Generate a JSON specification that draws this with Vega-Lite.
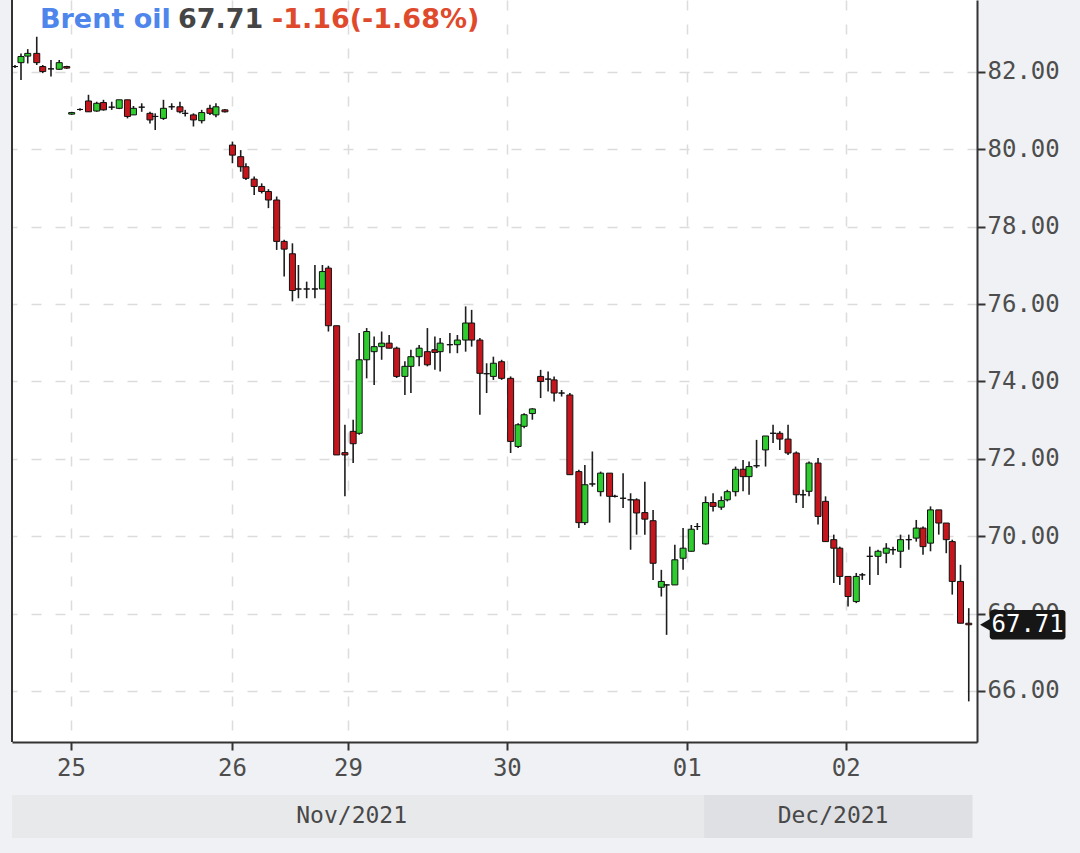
{
  "$schema": "https://vega.github.io/schema/vega-lite/v6.json",
  "width": 965,
  "height": 742,
  "autosize": "none",
  "padding": {"left": 12, "top": 0, "right": 103, "bottom": 111},
  "background": "#eff1f4",
  "config": {
    "view": {"fill": "white", "stroke": null},
    "font": "DejaVu Sans Mono",
    "axis": {
      "labelFont": "DejaVu Sans Mono",
      "labelFontSize": 24,
      "labelColor": "#4d4d4d",
      "domainColor": "#333333",
      "domainWidth": 2,
      "tickColor": "#333333",
      "tickWidth": 2,
      "tickSize": 8,
      "gridColor": "#dcdcdc",
      "gridDash": [10, 14],
      "gridWidth": 1.5
    }
  },
  "resolve": {"axis": {"x": "independent", "y": "independent"}},
  "datasets": {
    "candles": [
      {"t": 0.4, "o": 82.14, "h": 82.18, "l": 82.10, "c": 82.14},
      {"t": 1.2, "o": 82.24, "h": 82.48, "l": 81.79, "c": 82.40},
      {"t": 2.1, "o": 82.41, "h": 82.59, "l": 82.22, "c": 82.48},
      {"t": 3.3, "o": 82.48, "h": 82.91, "l": 82.18, "c": 82.24},
      {"t": 4.1, "o": 82.14, "h": 82.18, "l": 81.97, "c": 82.01},
      {"t": 5.2, "o": 82.08, "h": 82.31, "l": 81.88, "c": 82.08},
      {"t": 6.3, "o": 82.07, "h": 82.31, "l": 82.05, "c": 82.24},
      {"t": 7.3, "o": 82.14, "h": 82.16, "l": 82.08, "c": 82.10},
      {"t": 7.96, "o": 80.91, "h": 80.97, "l": 80.89, "c": 80.95},
      {"t": 9.07, "o": 81.03, "h": 81.06, "l": 81.00, "c": 81.03},
      {"t": 10.2, "o": 81.25, "h": 81.41, "l": 80.97, "c": 80.97},
      {"t": 11.3, "o": 80.99, "h": 81.23, "l": 80.97, "c": 81.19},
      {"t": 12.2, "o": 81.21, "h": 81.28, "l": 81.00, "c": 81.02},
      {"t": 13.3, "o": 81.09, "h": 81.23, "l": 81.02, "c": 81.09},
      {"t": 14.3, "o": 81.06, "h": 81.28, "l": 81.04, "c": 81.28},
      {"t": 15.4, "o": 81.28, "h": 81.28, "l": 80.80, "c": 80.85},
      {"t": 16.2, "o": 80.89, "h": 81.12, "l": 80.89, "c": 81.06},
      {"t": 17.3, "o": 81.09, "h": 81.19, "l": 80.97, "c": 81.09},
      {"t": 18.4, "o": 80.93, "h": 80.97, "l": 80.67, "c": 80.76},
      {"t": 19.1, "o": 80.85, "h": 80.93, "l": 80.50, "c": 80.85},
      {"t": 20.2, "o": 80.80, "h": 81.28, "l": 80.76, "c": 81.06},
      {"t": 21.3, "o": 81.10, "h": 81.19, "l": 81.02, "c": 81.10},
      {"t": 22.4, "o": 81.10, "h": 81.23, "l": 80.93, "c": 80.97},
      {"t": 23.1, "o": 80.93, "h": 81.02, "l": 80.85, "c": 80.93},
      {"t": 24.2, "o": 80.89, "h": 80.93, "l": 80.59, "c": 80.76},
      {"t": 25.3, "o": 80.74, "h": 81.02, "l": 80.67, "c": 80.95},
      {"t": 26.4, "o": 81.06, "h": 81.15, "l": 80.89, "c": 80.93},
      {"t": 27.2, "o": 80.89, "h": 81.19, "l": 80.83, "c": 81.10},
      {"t": 28.4, "o": 81.02, "h": 81.04, "l": 80.95, "c": 80.97},
      {"t": 29.4, "o": 80.11, "h": 80.20, "l": 79.64, "c": 79.85},
      {"t": 30.5, "o": 79.81, "h": 79.98, "l": 79.42, "c": 79.55},
      {"t": 31.2, "o": 79.55, "h": 79.64, "l": 79.21, "c": 79.25},
      {"t": 32.3, "o": 79.23, "h": 79.30, "l": 78.82, "c": 79.04},
      {"t": 33.3, "o": 79.04, "h": 79.12, "l": 78.86, "c": 78.91},
      {"t": 34.2, "o": 78.91, "h": 78.97, "l": 78.48, "c": 78.69},
      {"t": 35.3, "o": 78.69, "h": 78.78, "l": 77.40, "c": 77.62},
      {"t": 36.3, "o": 77.62, "h": 77.66, "l": 76.71, "c": 77.42},
      {"t": 37.4, "o": 77.30, "h": 77.57, "l": 76.07, "c": 76.35},
      {"t": 38.2, "o": 76.39, "h": 77.01, "l": 76.15, "c": 76.39},
      {"t": 39.3, "o": 76.39, "h": 76.58, "l": 76.15, "c": 76.39},
      {"t": 40.4, "o": 76.39, "h": 77.01, "l": 76.15, "c": 76.39},
      {"t": 41.4, "o": 76.39, "h": 77.01, "l": 76.39, "c": 76.84},
      {"t": 42.2, "o": 76.93, "h": 76.99, "l": 75.29, "c": 75.44},
      {"t": 43.3, "o": 75.44, "h": 75.44, "l": 72.10, "c": 72.10},
      {"t": 44.4, "o": 72.16, "h": 72.88, "l": 71.03, "c": 72.10},
      {"t": 45.5, "o": 72.71, "h": 73.01, "l": 71.89, "c": 72.39},
      {"t": 46.3, "o": 72.66, "h": 75.25, "l": 72.62, "c": 74.56},
      {"t": 47.3, "o": 74.56, "h": 75.38, "l": 74.08, "c": 75.29},
      {"t": 48.3, "o": 74.77, "h": 75.16, "l": 73.91, "c": 74.90},
      {"t": 49.3, "o": 74.90, "h": 75.29, "l": 74.56, "c": 74.99},
      {"t": 50.3, "o": 74.99, "h": 75.20, "l": 74.86, "c": 74.86},
      {"t": 51.3, "o": 74.86, "h": 74.90, "l": 74.09, "c": 74.13},
      {"t": 52.4, "o": 74.13, "h": 74.52, "l": 73.65, "c": 74.39},
      {"t": 53.2, "o": 74.39, "h": 74.82, "l": 73.70, "c": 74.64},
      {"t": 54.3, "o": 74.64, "h": 74.94, "l": 74.39, "c": 74.86},
      {"t": 55.4, "o": 74.77, "h": 75.38, "l": 74.39, "c": 74.43},
      {"t": 56.4, "o": 74.82, "h": 75.16, "l": 74.30, "c": 74.75},
      {"t": 57.1, "o": 74.77, "h": 75.12, "l": 74.26, "c": 74.99},
      {"t": 58.4, "o": 74.95, "h": 75.25, "l": 74.73, "c": 74.95},
      {"t": 59.4, "o": 74.95, "h": 75.20, "l": 74.73, "c": 75.07},
      {"t": 60.5, "o": 75.07, "h": 75.94, "l": 74.77, "c": 75.51},
      {"t": 61.3, "o": 75.51, "h": 75.85, "l": 74.90, "c": 75.07},
      {"t": 62.4, "o": 75.07, "h": 75.12, "l": 73.14, "c": 74.21},
      {"t": 63.3, "o": 74.20, "h": 74.47, "l": 73.70, "c": 74.20},
      {"t": 64.2, "o": 74.13, "h": 74.64, "l": 74.04, "c": 74.47},
      {"t": 65.3, "o": 74.51, "h": 74.56, "l": 74.04, "c": 74.08},
      {"t": 66.5, "o": 74.08, "h": 74.13, "l": 72.15, "c": 72.45},
      {"t": 67.5, "o": 72.32, "h": 72.92, "l": 72.28, "c": 72.88},
      {"t": 68.3, "o": 72.84, "h": 73.18, "l": 72.79, "c": 73.14},
      {"t": 69.4, "o": 73.17, "h": 73.31, "l": 73.01, "c": 73.29},
      {"t": 70.5, "o": 74.13, "h": 74.30, "l": 73.57, "c": 74.00},
      {"t": 71.5, "o": 74.06, "h": 74.26, "l": 73.74, "c": 74.06},
      {"t": 72.3, "o": 74.04, "h": 74.13, "l": 73.48, "c": 73.70},
      {"t": 73.3, "o": 73.70, "h": 73.78, "l": 73.61, "c": 73.70},
      {"t": 74.4, "o": 73.65, "h": 73.70, "l": 71.59, "c": 71.59},
      {"t": 75.6, "o": 71.67, "h": 71.72, "l": 70.21, "c": 70.35},
      {"t": 76.4, "o": 70.35, "h": 71.84, "l": 70.29, "c": 71.33},
      {"t": 77.4, "o": 71.35, "h": 72.19, "l": 71.28, "c": 71.35},
      {"t": 78.5, "o": 71.15, "h": 71.67, "l": 71.03, "c": 71.63},
      {"t": 79.7, "o": 71.63, "h": 71.63, "l": 70.35, "c": 71.03},
      {"t": 80.4, "o": 71.03, "h": 71.07, "l": 71.00, "c": 71.03},
      {"t": 81.5, "o": 70.98, "h": 71.63, "l": 70.73, "c": 70.98},
      {"t": 82.5, "o": 70.94, "h": 71.11, "l": 69.65, "c": 70.94},
      {"t": 83.3, "o": 70.94, "h": 70.98, "l": 70.04, "c": 70.60},
      {"t": 84.4, "o": 70.61, "h": 71.41, "l": 70.04, "c": 70.44},
      {"t": 85.5, "o": 70.40, "h": 70.68, "l": 68.87, "c": 69.30},
      {"t": 86.6, "o": 68.68, "h": 69.13, "l": 68.44, "c": 68.83},
      {"t": 87.3, "o": 68.74, "h": 68.76, "l": 67.45, "c": 68.74},
      {"t": 88.4, "o": 68.74, "h": 69.78, "l": 68.74, "c": 69.39},
      {"t": 89.5, "o": 69.43, "h": 70.21, "l": 69.13, "c": 69.69},
      {"t": 90.6, "o": 69.61, "h": 70.29, "l": 69.60, "c": 70.18},
      {"t": 91.4, "o": 70.25, "h": 70.34, "l": 70.16, "c": 70.25},
      {"t": 92.5, "o": 69.80, "h": 71.03, "l": 69.78, "c": 70.87},
      {"t": 93.5, "o": 70.87, "h": 71.11, "l": 70.64, "c": 70.77},
      {"t": 94.6, "o": 70.75, "h": 71.03, "l": 70.68, "c": 70.92},
      {"t": 95.4, "o": 70.94, "h": 71.20, "l": 70.90, "c": 71.15},
      {"t": 96.5, "o": 71.15, "h": 71.80, "l": 71.03, "c": 71.73},
      {"t": 97.5, "o": 71.73, "h": 71.97, "l": 71.16, "c": 71.54},
      {"t": 98.3, "o": 71.54, "h": 71.93, "l": 71.07, "c": 71.80},
      {"t": 99.3, "o": 71.82, "h": 72.49, "l": 71.76, "c": 71.82},
      {"t": 100.5, "o": 72.23, "h": 72.59, "l": 71.80, "c": 72.59},
      {"t": 101.5, "o": 72.66, "h": 72.88, "l": 72.41, "c": 72.66},
      {"t": 102.4, "o": 72.66, "h": 72.71, "l": 72.23, "c": 72.51},
      {"t": 103.5, "o": 72.51, "h": 72.88, "l": 72.10, "c": 72.15},
      {"t": 104.6, "o": 72.15, "h": 72.19, "l": 70.86, "c": 71.07},
      {"t": 105.5, "o": 71.07, "h": 71.20, "l": 70.73, "c": 71.07},
      {"t": 106.3, "o": 71.16, "h": 71.93, "l": 71.03, "c": 71.89},
      {"t": 107.5, "o": 71.89, "h": 72.02, "l": 70.30, "c": 70.51},
      {"t": 108.5, "o": 70.90, "h": 71.03, "l": 69.86, "c": 69.86},
      {"t": 109.6, "o": 69.91, "h": 70.04, "l": 68.79, "c": 69.69},
      {"t": 110.4, "o": 69.69, "h": 69.73, "l": 68.74, "c": 68.96},
      {"t": 111.5, "o": 68.96, "h": 68.96, "l": 68.18, "c": 68.44},
      {"t": 112.6, "o": 68.31, "h": 69.05, "l": 68.27, "c": 68.96},
      {"t": 113.4, "o": 69.00, "h": 69.05, "l": 68.87, "c": 69.00},
      {"t": 114.4, "o": 69.48, "h": 69.73, "l": 68.74, "c": 69.48},
      {"t": 115.5, "o": 69.48, "h": 69.65, "l": 69.00, "c": 69.61},
      {"t": 116.6, "o": 69.56, "h": 69.82, "l": 69.30, "c": 69.69},
      {"t": 117.5, "o": 69.65, "h": 69.73, "l": 69.52, "c": 69.65},
      {"t": 118.5, "o": 69.61, "h": 70.04, "l": 69.18, "c": 69.91},
      {"t": 119.6, "o": 69.91, "h": 70.04, "l": 69.65, "c": 69.91},
      {"t": 120.6, "o": 69.95, "h": 70.42, "l": 69.86, "c": 70.21},
      {"t": 121.5, "o": 70.21, "h": 70.25, "l": 69.52, "c": 69.73},
      {"t": 122.5, "o": 69.82, "h": 70.77, "l": 69.61, "c": 70.68},
      {"t": 123.6, "o": 70.68, "h": 70.68, "l": 70.04, "c": 70.34},
      {"t": 124.6, "o": 70.34, "h": 70.34, "l": 69.56, "c": 69.91},
      {"t": 125.4, "o": 69.86, "h": 69.91, "l": 68.49, "c": 68.83},
      {"t": 126.5, "o": 68.83, "h": 69.26, "l": 67.75, "c": 67.75},
      {"t": 127.6, "o": 67.75, "h": 68.14, "l": 65.73, "c": 67.71}
    ],
    "months": [
      {"m": "Nov/2021", "start": 0, "end": 92.3, "mid": 45.3},
      {"m": "Dec/2021", "start": 92.3, "end": 128.1, "mid": 109.5}
    ],
    "last": [{"price": 67.71, "label": "67.71"}]
  },
  "layer": [
    {
      "data": {"name": "months"},
      "mark": {"type": "rect", "clip": false},
      "encoding": {
        "x": {"field": "start", "type": "quantitative", "axis": null},
        "x2": {"field": "end"},
        "y": {"datum": 63.31, "axis": null},
        "y2": {"datum": 62.2},
        "color": {"field": "m", "type": "nominal", "legend": null,
          "scale": {"domain": ["Nov/2021", "Dec/2021"], "range": ["#e8e9eb", "#dfe0e3"]}}
      }
    },
    {
      "data": {"name": "months"},
      "mark": {"type": "text", "font": "DejaVu Sans Mono", "fontSize": 23, "color": "#484848", "baseline": "middle"},
      "encoding": {
        "x": {"field": "mid", "type": "quantitative", "axis": null},
        "y": {"datum": 62.76, "axis": null},
        "text": {"field": "m"}
      }
    },
    {
      "data": {"name": "candles"},
      "mark": {"type": "rule", "color": "#1e1e1e", "strokeWidth": 1.6},
      "encoding": {
        "x": {
          "field": "t", "type": "quantitative",
          "scale": {"domain": [0, 128.7], "nice": false, "zero": false, "padding": 0},
          "axis": {
            "title": null,
            "values": [7.87, 29.33, 44.8, 66, 90, 111.2],
            "labelExpr": "datum.value < 10 ? '25' : datum.value < 30 ? '26' : datum.value < 50 ? '29' : datum.value < 70 ? '30' : datum.value < 100 ? '01' : '02'",
            "labelPadding": 6,
            "grid": true
          }
        },
        "y": {
          "field": "l", "type": "quantitative",
          "scale": {"domain": [64.68, 83.86], "nice": false, "zero": false, "padding": 0},
          "axis": {
            "title": null,
            "orient": "right",
            "values": [66, 68, 70, 72, 74, 76, 78, 80, 82],
            "format": ".2f",
            "labelPadding": 2,
            "grid": true
          }
        },
        "y2": {"field": "h"}
      }
    },
    {
      "data": {"name": "candles"},
      "mark": {"type": "rule", "color": "#333333", "strokeWidth": 2},
      "encoding": {
        "x": {"datum": 0, "axis": null}
      }
    },
    {
      "data": {"name": "candles"},
      "mark": {"type": "bar", "stroke": "#111111", "strokeWidth": 1},
      "encoding": {
        "x": {"field": "t", "type": "quantitative", "axis": null},
        "y": {"field": "o", "type": "quantitative", "axis": null},
        "y2": {"field": "c"},
        "size": {"value": 6},
        "color": {
          "condition": {"test": "datum.c >= datum.o", "value": "#2ecc2e"},
          "value": "#c4161c"
        }
      }
    },
    {
      "data": {"values": [{}]},
      "mark": {"type": "text", "text": "Brent oil", "font": "DejaVu Sans", "fontWeight": "bold", "fontSize": 27, "color": "#4f86ec", "align": "left", "baseline": "middle"},
      "encoding": {
        "x": {"datum": 3.73, "axis": null},
        "y": {"datum": 83.34, "axis": null}
      }
    },
    {
      "data": {"values": [{}]},
      "mark": {"type": "text", "text": "67.71", "font": "DejaVu Sans", "fontWeight": "bold", "fontSize": 27, "color": "#454545", "align": "left", "baseline": "middle"},
      "encoding": {
        "x": {"datum": 22.13, "axis": null},
        "y": {"datum": 83.34, "axis": null}
      }
    },
    {
      "data": {"values": [{}]},
      "mark": {"type": "text", "text": "-1.16(-1.68%)", "font": "DejaVu Sans", "fontWeight": "bold", "fontSize": 27, "color": "#e04a2c", "align": "left", "baseline": "middle"},
      "encoding": {
        "x": {"datum": 34.67, "axis": null},
        "y": {"datum": 83.34, "axis": null}
      }
    },
    {
      "data": {"name": "last"},
      "mark": {"type": "rect", "color": "#161616", "cornerRadius": 3, "clip": false},
      "encoding": {
        "x": {"datum": 130.4, "axis": null},
        "x2": {"datum": 140.5},
        "y": {"datum": 67.33, "axis": null},
        "y2": {"datum": 68.09}
      }
    },
    {
      "data": {"name": "last"},
      "mark": {"type": "point", "shape": "triangle-left", "filled": true, "size": 240, "color": "#161616", "opacity": 1},
      "encoding": {
        "x": {"datum": 130, "axis": null},
        "y": {"field": "price", "type": "quantitative", "axis": null}
      }
    },
    {
      "data": {"name": "last"},
      "mark": {"type": "text", "font": "DejaVu Sans Mono", "fontSize": 24, "color": "white", "baseline": "middle"},
      "encoding": {
        "x": {"datum": 135.45, "axis": null},
        "y": {"field": "price", "type": "quantitative", "axis": null},
        "text": {"field": "label"}
      }
    }
  ]
}
